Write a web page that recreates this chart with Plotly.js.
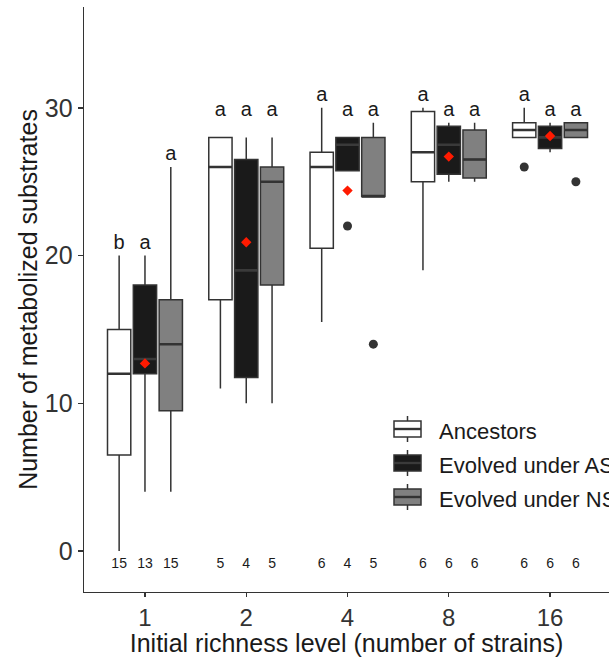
<!DOCTYPE html>
<html>
<head>
<meta charset="utf-8">
<script src="https://cdn.plot.ly/plotly-3.0.1.min.js"></script>
<style>html,body{margin:0;padding:0;background:#fff;}#chart{width:609px;height:657px;}</style>
</head>
<body>
<div id="chart"></div>
<script>
// ---- Data ----
const categories = ['1', '2', '4', '8', '16'];
const seriesNames = ['Ancestors', 'Evolved under AS', 'Evolved under NS'];

const ancLower  = [0, 11, 15.5, 19, 28];
const ancQ1     = [6.5, 17, 20.5, 25, 28];
const ancMedian = [12, 26, 26, 27, 28.5];
const ancQ3     = [15, 28, 27, 29.75, 29];
const ancUpper  = [20, 28, 30, 30, 30];
const ancOutliers = [[], [], [], [], [26]];
const ancN = [15, 5, 6, 6, 6];
const ancLetters = ['b', 'a', 'a', 'a', 'a'];
const ancLetterY = [20.8, 29.8, 30.8, 30.8, 30.8];

const asLower  = [4, 10, 25.75, 25, 27];
const asQ1     = [12, 11.75, 25.75, 25.5, 27.25];
const asMedian = [13, 19, 27.5, 27.5, 28];
const asQ3     = [18, 26.5, 28, 28.75, 28.75];
const asUpper  = [20, 28, 28, 29, 29];
const asMean   = [12.7, 20.9, 24.4, 26.7, 28.1];
const asOutliers = [[], [], [22], [], []];
const asN = [13, 4, 4, 6, 6];
const asLetters = ['a', 'a', 'a', 'a', 'a'];
const asLetterY = [20.8, 29.8, 29.8, 29.8, 29.8];

const nsLower  = [4, 10, 24, 25, 28];
const nsQ1     = [9.5, 18, 24, 25.25, 28];
const nsMedian = [14, 25, 24, 26.5, 28.5];
const nsQ3     = [17, 26, 28, 28.5, 29];
const nsUpper  = [26, 28, 29, 29, 29];
const nsOutliers = [[], [], [14], [], [25]];
const nsN = [15, 5, 5, 6, 6];
const nsLetters = ['a', 'a', 'a', 'a', 'a'];
const nsLetterY = [26.8, 29.8, 29.8, 29.8, 29.8];

// ---- Styling / layout ----
const FONT = 'Liberation Sans, Arial, Helvetica, sans-serif';
const dodge = 0.255;
const boxW = 0.23;
const series = [
  {name: seriesNames[0], lower: ancLower, q1: ancQ1, med: ancMedian, q3: ancQ3, upper: ancUpper,
   out: ancOutliers, n: ancN, letters: ancLetters, letterY: ancLetterY, fill: '#ffffff', off: -dodge, medCol: '#333333'},
  {name: seriesNames[1], lower: asLower, q1: asQ1, med: asMedian, q3: asQ3, upper: asUpper,
   out: asOutliers, n: asN, letters: asLetters, letterY: asLetterY, fill: '#1a1a1a', off: 0, mean: asMean, medCol: '#3a3a3a'},
  {name: seriesNames[2], lower: nsLower, q1: nsQ1, med: nsMedian, q3: nsQ3, upper: nsUpper,
   out: nsOutliers, n: nsN, letters: nsLetters, letterY: nsLetterY, fill: '#808080', off: dodge, medCol: '#333333'}
];
const lineCol = '#333333';
const idx = categories.map((c, i) => i);

const traces = [];
series.forEach(s => {
  const xs = idx.map(i => i + s.off);
  traces.push({
    type: 'box', name: s.name, x: xs,
    q1: s.q1, median: s.med, q3: s.q3, lowerfence: s.lower, upperfence: s.upper,
    width: boxW, fillcolor: s.fill, line: {color: lineCol, width: 1.5},
    whiskerwidth: 0, boxpoints: false, hoverinfo: 'skip', showlegend: false
  });
  // thicker median line (degenerate box at the median)
  traces.push({
    type: 'box', name: s.name + ' median', x: xs,
    q1: s.med, median: s.med, q3: s.med, lowerfence: s.med, upperfence: s.med,
    width: boxW, fillcolor: 'rgba(0,0,0,0)', line: {color: s.medCol, width: 2.6},
    whiskerwidth: 0, boxpoints: false, hoverinfo: 'skip', showlegend: false
  });
});
series.forEach(s => {
  const ox = [], oy = [];
  s.out.forEach((arr, i) => arr.forEach(v => { ox.push(i + s.off); oy.push(v); }));
  if (ox.length) traces.push({
    type: 'scatter', mode: 'markers', x: ox, y: oy, showlegend: false, hoverinfo: 'skip',
    marker: {color: '#333333', size: 9, symbol: 'circle'}
  });
});
series.forEach(s => {
  if (s.mean) traces.push({
    type: 'scatter', mode: 'markers', x: idx.map(i => i + s.off), y: s.mean,
    showlegend: false, hoverinfo: 'skip',
    marker: {color: '#ff1a00', size: 8, symbol: 'diamond'}
  });
});
series.forEach(s => {
  traces.push({
    type: 'scatter', mode: 'text', x: idx.map(i => i + s.off), y: s.letterY, text: s.letters,
    textposition: 'middle center', textfont: {family: FONT, size: 20, color: '#1a1a1a'},
    showlegend: false, hoverinfo: 'skip'
  });
  traces.push({
    type: 'scatter', mode: 'text', x: idx.map(i => i + s.off), y: idx.map(() => -0.95),
    text: s.n.map(String),
    textposition: 'middle center', textfont: {family: FONT, size: 14, color: '#1a1a1a'},
    showlegend: false, hoverinfo: 'skip'
  });
});

// legend drawn with paper-referenced shapes (pixel helpers)
const W = 609, H = 657, mL = 84, mR = 0, mT = 7, mB = 65;
const pw = W - mL - mR, ph = H - mT - mB;
const px = v => (v - mL) / pw;
const py = v => (H - mB - v) / ph;
const shapes = [], annotations = [];
series.forEach((s, i) => {
  const cy = 429 + 34 * i;
  const x0 = 394, x1 = 421, xc = (x0 + x1) / 2;
  const common = {xref: 'paper', yref: 'paper', line: {color: lineCol, width: 1.5}};
  shapes.push(Object.assign({type: 'line', x0: px(xc), x1: px(xc), y0: py(cy - 13), y1: py(cy + 13)}, common));
  shapes.push(Object.assign({type: 'rect', x0: px(x0), x1: px(x1), y0: py(cy - 8), y1: py(cy + 8), fillcolor: s.fill}, common));
  shapes.push({type: 'line', xref: 'paper', yref: 'paper', x0: px(x0), x1: px(x1), y0: py(cy), y1: py(cy),
    line: {color: s.medCol, width: 2.4}});
  annotations.push({xref: 'paper', yref: 'paper', x: px(437), y: py(cy + 2), xanchor: 'left', yanchor: 'middle',
    text: s.name, showarrow: false, font: {family: FONT, size: 22, color: '#1a1a1a'}});
});

const layout = {
  width: W, height: H,
  margin: {l: mL, r: mR, t: mT, b: mB},
  paper_bgcolor: '#ffffff', plot_bgcolor: '#ffffff',
  boxmode: 'overlay', showlegend: false,
  font: {family: FONT},
  xaxis: {
    range: [-0.602, 4.582], tickvals: idx, ticktext: categories,
    showgrid: false, zeroline: false, showline: true, linecolor: lineCol, linewidth: 1.4,
    ticks: 'outside', ticklen: 4, tickwidth: 1.3, tickcolor: lineCol, ticklabelstandoff: 0,
    tickfont: {family: FONT, size: 24, color: '#333333'},
    title: {text: 'Initial richness level (number of strains)', font: {family: FONT, size: 25, color: '#1a1a1a'}, standoff: 5}
  },
  yaxis: {
    range: [-2.78, 36.83], tickvals: [0, 10, 20, 30],
    showgrid: false, zeroline: false, showline: true, linecolor: lineCol, linewidth: 1.4,
    ticks: 'outside', ticklen: 5, tickwidth: 1.3, tickcolor: lineCol,
    tickfont: {family: FONT, size: 25, color: '#333333'},
    title: {text: 'Number of metabolized substrates', font: {family: FONT, size: 25, color: '#1a1a1a'}, standoff: 0}
  },
  shapes: shapes, annotations: annotations
};

Plotly.newPlot('chart', traces, layout, {staticPlot: true, displayModeBar: false});
</script>
</body>
</html>
